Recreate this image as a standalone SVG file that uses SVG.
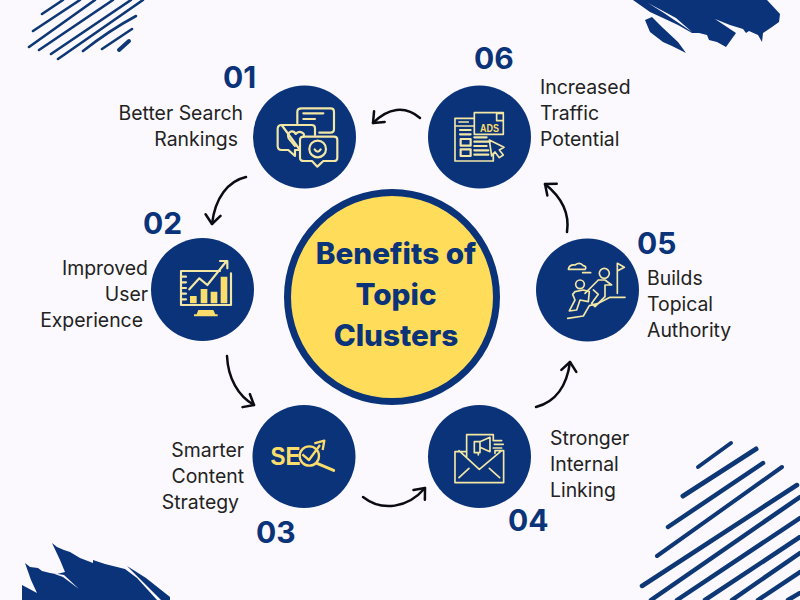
<svg xmlns="http://www.w3.org/2000/svg" width="800" height="600" viewBox="0 0 800 600">
<style>
.navy{fill:#0A3379}
.stripe{stroke:#0E3776;fill:none;stroke-linecap:round}
.hub{fill:#0A3379}
.ln{fill:none;stroke:#F3E7A6;stroke-width:6.5;stroke-linejoin:round;stroke-linecap:round}
.thin{fill:none;stroke:#F3E7A6;stroke-width:5;stroke-linejoin:round;stroke-linecap:round}
.bar{fill:#FBDD6C}
.num{font:700 30px "Inter","Liberation Sans",sans-serif;fill:#0A3379}
.lab{font:400 19.4px "Inter","Liberation Sans",sans-serif;fill:#222}
.title{font:800 29.7px "Inter","Liberation Sans",sans-serif;fill:#0A3379;text-anchor:middle}
.end{text-anchor:end}
.arc{fill:none;stroke:#0b0b14;stroke-width:2.5;stroke-linecap:round;marker-end:url(#head)}
</style>
<defs>
<marker id="head" viewBox="-11 -9 13 18" refX="0" refY="0" markerWidth="13" markerHeight="18" markerUnits="userSpaceOnUse" orient="auto">
<path d="M-9-7.5 0 0-9 7.5" fill="none" stroke="#0b0b14" stroke-width="2.5" stroke-linecap="round" stroke-linejoin="round"/>
</marker>
</defs>
<rect width="800" height="600" fill="#FBF9FD"/>

<!-- corner decoration -->
<g id="stripes-top-left" class="stripe" stroke-width="2.6">
<path d="M42 14 63 0M33 31 80 0M29 47 95 0M39 50 113 0M51 54 131 0M58 59 143 0M83 51Q110 30 136 16M102 49 132 29"/>
<path d="M119 50 129 41" stroke-width="4"/>
</g>
<g id="brush-top-right" class="navy">
<path d="M633 0 650 12 663 18 678 25 692 33 699 33 707 35 709 40 717 42 726 47 736 33 715 19 730 25 743 29 746 33 749 31 758 35 762 42 763 33 772 27 779 22 780 14 767 0Z"/>
<path d="M645 20 652 17 663 28 678 42 686 53 672 46 663 42 650 32Z"/>
<path d="M648 3 664 13 692 32 676 18Z" fill="#FBF9FD"/>
</g>
<g id="stripes-bottom-right" class="stripe" stroke-width="4.5">
<path d="M698 467 731 443" stroke-width="4"/>
<path d="M683 496 756 449" stroke-width="5"/>
<path d="M668 527 763 463"/>
<path d="M657 556 782 467" stroke-width="4"/>
<path d="M642 586 797 485"/>
<path d="M651 600 800 497M677 600 800 518M705 600 800 537M732 600 800 553M758 600 800 572M788 600 800 593"/>
</g>
<g id="brush-bottom-left" class="navy">
<path d="M22 600V585L37 593 31 580 25 563 30 567 38 568 42 571 50 573 57 574 65 572 60 560 52 543 57 547 64 550 70 552 80 558 93 563 93 560 105 564 125 569 137 578 157 600Z"/>
<path d="M127 566 146 578 170 597V600H161L145 584Z"/>
<path d="M52 573 64 575 79 589 63 577Z" fill="#FBF9FD"/>
</g>

<!-- curved arrows between the steps -->
<g id="connectors">
<path class="arc" d="M420 118C405 105 388 108 373 123"/>
<path class="arc" d="M246 177C228 181 215 198 212 224"/>
<path class="arc" d="M227 356C228 378 238 396 254 405"/>
<path class="arc" d="M363 497C382 512 408 508 425 488"/>
<path class="arc" d="M536 407C556 402 567 385 570 362"/>
<path class="arc" d="M567 232C570 212 560 196 545 184"/>
</g>

<g id="center">
<circle cx="392" cy="297" r="104.5" fill="#FFDD5A" stroke="#0A3379" stroke-width="7"/>
<text class="title" x="396" y="264">Benefits of</text>
<text class="title" x="396" y="305">Topic</text>
<text class="title" x="396" y="346">Clusters</text>
</g>

<g id="step-01">
<circle class="hub" cx="304.5" cy="137" r="51.5"/>
<g transform="translate(240 80) scale(.3333)">
<path class="ln" d="M185 85H272Q282 85 282 95V148Q282 158 272 158H238M172 130V95Q172 85 185 85"/>
<path class="ln" d="M190 100H250M190 117H225"/>
<path class="ln" d="M125 135H215Q225 135 225 145V165M180 210H165L165 228 145 210H125Q113 210 113 198V147Q113 135 125 135Z"/>
<path class="ln" d="M165 198 146 175Q140 160 152 155 162 152 167 162 175 152 187 158 195 162 190 170"/>
<path class="ln" d="M192 170H282Q292 170 292 180V233Q292 243 282 243H250L232 260 216 243H192Q180 243 180 233V180Q180 170 192 170Z"/>
<circle class="ln" cx="233" cy="207" r="25"/>
<path class="ln" d="M224 208Q233 222 242 208"/>
</g>
<text class="num" x="223" y="88">01</text>
<text class="lab end" x="243" y="120">Better Search</text>
<text class="lab end" x="238" y="146">Rankings</text>
</g>

<g id="step-02">
<circle class="hub" cx="202.5" cy="289.5" r="51.5"/>
<g transform="translate(170 235) scale(.3333)">
<path class="ln" d="M150 108H33V210H183V115"/>
<path class="ln" d="M33 125H48M33 142H48M33 159H48M33 176H48M33 193H48" stroke-width="4"/>
<path class="bar" d="M60 183H80V205H60ZM92 162H112V205H92ZM122 170H142V205H122ZM152 125H172V205H152ZM85 225H130L138 242H78ZM72 238H143V244H72Z"/>
<path class="ln" d="M58 163 88 130 112 150 170 78M150 78H172V100"/>
</g>
<text class="num" x="143" y="234">02</text>
<text class="lab end" x="148" y="275">Improved</text>
<text class="lab end" x="148" y="301">User</text>
<text class="lab end" x="143" y="327">Experience</text>
</g>

<g id="step-03">
<circle class="hub" cx="304" cy="456.5" r="51.5"/>
<text x="270.5" y="465" font-family="'Liberation Sans',sans-serif" font-weight="700" font-size="25" fill="#FBDD6C" textLength="30" lengthAdjust="spacingAndGlyphs">SE</text>
<g transform="translate(245 400) scale(.3333)">
<circle cx="193" cy="168" r="29" fill="none" stroke="#FBDD6C" stroke-width="7"/>
<path d="M172 163 192 180 225 135M208 130 238 122 233 150" fill="none" stroke="#FBDD6C" stroke-width="7" stroke-linejoin="round"/>
<path d="M216 190 266 211" stroke="#FBDD6C" stroke-width="9" stroke-linecap="round"/>
</g>
<text class="num" x="256" y="543">03</text>
<text class="lab end" x="244" y="457">Smarter</text>
<text class="lab end" x="244" y="483">Content</text>
<text class="lab end" x="239" y="509">Strategy</text>
</g>

<g id="step-04">
<circle class="hub" cx="479.5" cy="456.5" r="51.5"/>
<g transform="translate(245 400) scale(.3333)">
<path class="thin" d="M665 170V104H745V120M630 155V248H776V152H750L750 160M630 155H665M642 152 703 208 770 152M642 233 672 205M764 233 733 205"/>
<path class="thin" d="M688 125H705V158H688ZM705 125 735 112V155L705 142M700 158V165M745 122H770M748 133H775M745 144H770"/>
</g>
<text class="num" x="508" y="531">04</text>
<text class="lab" x="550" y="445">Stronger</text>
<text class="lab" x="550" y="471">Internal</text>
<text class="lab" x="550" y="497">Linking</text>
</g>

<g id="step-05">
<circle class="hub" cx="587.5" cy="290" r="51.5"/>
<g transform="translate(530 235) scale(.3333)">
<path class="thin" d="M115 103Q118 88 135 90 150 80 160 92 172 95 165 103ZM158 113H182"/>
<circle class="thin" cx="150" cy="148" r="13"/>
<circle class="thin" cx="223" cy="115" r="15"/>
<path class="thin" d="M262 175V85L283 97 262 108M113 250 160 243 178 212 205 205 240 187H285"/>
<path class="thin" d="M205 135H225L245 150H225V185L195 215 185 205 205 178 190 165M205 135 165 175"/>
<path class="thin" d="M135 170 160 165 178 170 175 200 150 195 140 225 118 228 135 195 128 178Z"/>
</g>
<text class="num" x="637" y="254">05</text>
<text class="lab" x="647" y="285">Builds</text>
<text class="lab" x="647" y="311">Topical</text>
<text class="lab" x="647" y="337">Authority</text>
</g>

<g id="step-06">
<circle class="hub" cx="479.5" cy="137" r="51.5"/>
<g transform="translate(240 80) scale(.3333)">
<path class="thin" d="M703 115H645V243H760V220M645 138H703M657 126H685" stroke-width="4"/>
<path class="thin" d="M703 98H790V163H703ZM770 100H790V122H770Z"/>
<path class="ln" d="M660 150H692M660 163H692M662 177H692V197H662ZM662 208H692V228H662ZM703 172H740M703 185H750M703 198H740M703 211H745M703 224H745" stroke-width="4"/>
<path class="thin" d="M748 180 792 202 778 210 790 225 778 233 765 216 755 228Z"/>
</g>
<text x="480" y="131.5" font-family="'Liberation Sans',sans-serif" font-weight="700" font-size="11" fill="#FBDD6C" textLength="19" lengthAdjust="spacingAndGlyphs">ADS</text>
<text class="num" x="474" y="69">06</text>
<text class="lab" x="540" y="94">Increased</text>
<text class="lab" x="540" y="120">Traffic</text>
<text class="lab" x="540" y="146">Potential</text>
</g>
</svg>
